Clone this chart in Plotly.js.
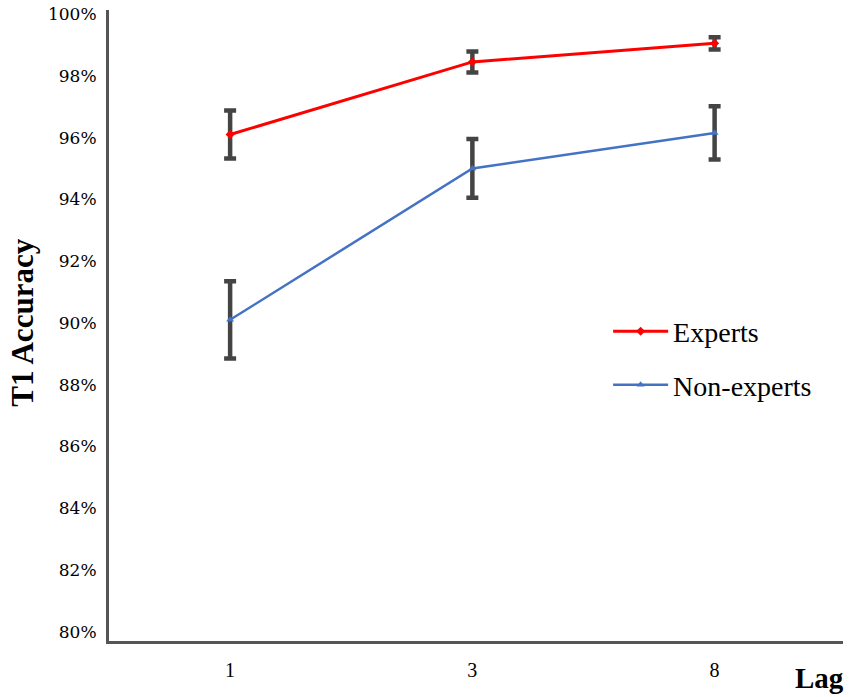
<!DOCTYPE html>
<html>
<head>
<meta charset="utf-8">
<script src="https://cdn.plot.ly/plotly-3.0.1.min.js"></script>
<style>
body { margin: 0; background: #fff; }
#chart { width: 850px; height: 697px; }
</style>
</head>
<body>
<div id="chart"></div>
<script>
// T1 accuracy by lag, with error bars.
var lags = ['1', '3', '8'];
var experts = [96.1, 98.45, 99.05];
var experts_err = [0.78, 0.34, 0.2];
var non_experts = [90.1, 95.0, 96.15];
var non_experts_err = [1.25, 0.95, 0.86];
var y_ticks = [80, 82, 84, 86, 88, 90, 92, 94, 96, 98, 100];
var y_tick_labels = y_ticks.map(function(v){ return v + '%'; });

var err_style = function(vals){
return {type: 'data', array: vals, visible: true, color: '#444444', thickness: 4.5, width: 6};
};

var graph_data = [{
x: lags,
y: experts,
name: 'Experts',
legendgroup: 'a',
type: 'scatter',
mode: 'lines+markers',
line: {color: '#ff0000', width: 3},
marker: {color: '#ff0000', symbol: 'diamond', size: 7},
error_y: err_style(experts_err)
}, {
x: lags,
y: non_experts,
name: 'Non-experts',
legendgroup: 'b',
type: 'scatter',
mode: 'lines+markers',
line: {color: '#4472c4', width: 2.5},
marker: {color: '#4472c4', symbol: 'triangle-up', size: 7},
error_y: err_style(non_experts_err)
}];

var layout = {
width: 850,
height: 697,
margin: {l: 109, r: 7, t: 10, b: 56},
paper_bgcolor: '#ffffff',
plot_bgcolor: '#ffffff',
showlegend: true,
legend: {
x: 0.68,
y: 0.53,
xanchor: 'left',
yanchor: 'top',
traceorder: 'grouped',
tracegroupgap: 14,
itemwidth: 55,
font: {family: 'Liberation Serif', size: 28, color: '#000'},
bgcolor: 'rgba(0,0,0,0)'
},
xaxis: {
type: 'category',
range: [-0.5, 2.53],
showline: true,
linecolor: '#555555',
linewidth: 3,
showgrid: false,
zeroline: false,
ticks: '',
ticklabelstandoff: 9,
tickfont: {family: 'Liberation Serif', size: 20, color: '#000'}
},
yaxis: {
range: [79.7, 100.13],
tickvals: y_ticks,
ticktext: y_tick_labels,
showline: true,
linecolor: '#555555',
linewidth: 3,
showgrid: false,
zeroline: false,
ticks: '',
ticklabelstandoff: 6,
tickfont: {family: 'DejaVu Serif', size: 17, color: '#000'}
},
annotations: [{
text: '<b>T1 Accuracy</b>',
xref: 'paper', yref: 'paper',
x: -0.118, y: 0.505,
xanchor: 'center', yanchor: 'middle',
textangle: -90,
showarrow: false,
font: {family: 'Liberation Serif', size: 31, color: '#000'}
}, {
text: '<b>Lag</b>',
xref: 'paper', yref: 'paper',
x: 0.968, y: -0.058,
xanchor: 'center', yanchor: 'middle',
showarrow: false,
font: {family: 'Liberation Serif', size: 29, color: '#000'}
}]
};

var config = {displayModeBar: false, responsive: false};
Plotly.newPlot('chart', graph_data, layout, config);
</script>
</body>
</html>
